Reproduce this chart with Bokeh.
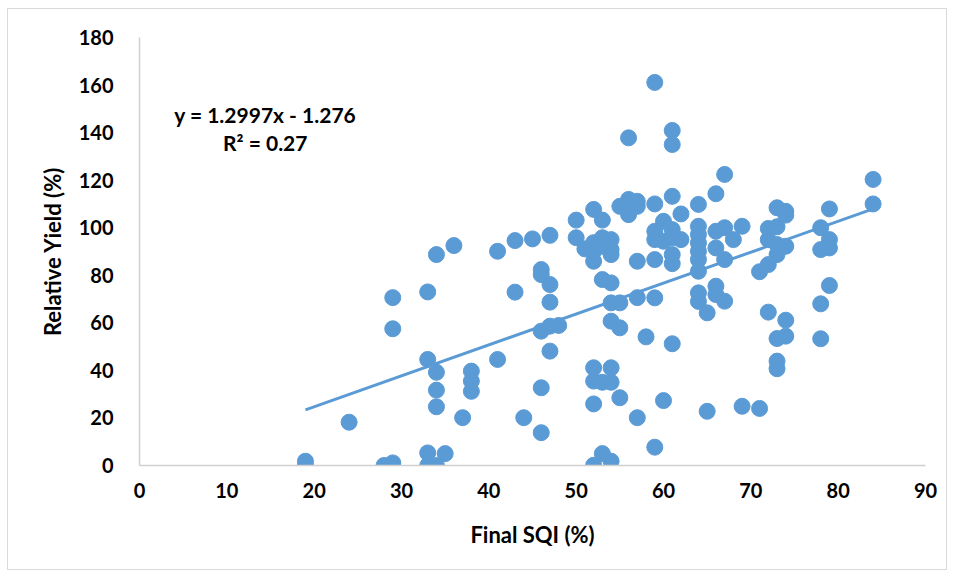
from bokeh.embed import file_html
from bokeh.models import ColumnDataSource, Label, Range1d
from bokeh.plotting import figure
from bokeh.resources import INLINE

# Final SQI (%) and relative yield (%)
sqi = [19, 19, 24, 28, 29, 29, 29, 29, 33, 33, 33, 33, 34, 34, 34, 34, 34, 35, 36,
       37, 38, 38, 38, 41, 41, 43, 43, 44, 45, 46, 46, 46, 46, 46, 47, 47, 47, 47, 47, 48,
       50, 50,
       51, 52, 53, 52, 53, 54, 52, 53, 54, 52, 54, 53, 54, 52, 54, 52, 53, 54, 55, 52,
       53, 54, 52, 54, 55, 54, 55,
       55, 56, 57, 56, 57, 57, 57, 57, 56, 58,
       59, 59, 59, 59, 59, 60, 59, 61, 59, 60, 61, 62, 61, 61, 62, 61, 61, 61, 60, 61,
       64, 64, 64, 64, 64, 64, 64, 64, 64, 65, 65,
       66, 66, 67, 69, 68, 66, 67, 66, 66, 67, 67, 69, 71,
       73, 74, 74, 72, 73, 72, 73, 74, 73, 72, 71, 72, 74, 73, 74, 73, 73,
       79, 78, 79, 78, 79, 79, 78, 78,
       84, 84]
rel_yield = [1.8, 0, 18.2, 0, 1.1, 0, 70.6, 57.5, 73.0, 44.6, 5.3, 0, 0, 39.2, 31.7, 24.7, 88.7, 5.0, 92.5,
             20.1, 39.7, 35.5, 31.2, 44.6, 90.1, 94.6, 72.9, 20.1, 95.3, 82.4, 80.3, 32.7, 13.8, 56.5,
             96.8, 76.1, 68.7, 58.6, 48.1, 58.9,
             103.2, 95.8,
             91.1, 107.7, 103.2, 93.7, 95.8, 95.0, 90.1, 92.2, 90.8, 85.9, 88.7, 78.2, 76.8, 41.1, 41.1,
             35.5, 35.0, 35.0, 28.5, 25.9, 5.0, 1.8, 0.1, 60.7, 57.9, 68.4, 68.4,
             109.0, 111.9, 111.1, 105.5, 109.0, 85.9, 70.6, 20.1, 137.8, 54.1,
             110.0, 86.6, 70.5, 7.7, 161.1, 102.7, 98.5, 99.2, 95.0, 94.3, 95.8, 95.0, 88.7, 84.9,
             105.8, 113.2, 140.9, 135.0, 27.3, 51.2,
             109.8, 100.6, 97.1, 93.6, 90.1, 86.6, 81.7, 72.6, 69.0, 64.2, 22.8,
             114.3, 98.5, 100.0, 100.6, 95.0, 91.5, 86.6, 75.4, 71.9, 69.1, 122.4, 24.9, 24.0,
             108.4, 106.9, 105.3, 99.7, 100.4, 95.0, 92.9, 92.2, 88.7, 84.5, 81.5, 64.5, 61.1,
             53.4, 54.4, 43.9, 40.7,
             107.9, 100.0, 95.0, 90.8, 91.5, 75.7, 68.0, 53.3,
             120.3, 110.0]

# linear trendline reported on the chart
slope = 1.2997
intercept = -1.276
r_squared = 0.27

x_ticks = list(range(0, 91, 10))
y_ticks = list(range(0, 181, 20))

BLUE = "#5B9BD5"
FONT = "Lato"

p = figure(width=940, height=562, x_range=Range1d(0, 90), y_range=Range1d(0, 180),
           output_backend="svg", toolbar_location=None,
           min_border_left=131, min_border_right=23, min_border_top=28, min_border_bottom=106)
p.styles = {"border": "1px solid #d9d9d9", "margin": "8px 0 0 7px"}
p.outline_line_color = None
p.grid.visible = False

source = ColumnDataSource(data=dict(x=sqi, y=rel_yield))
p.scatter("x", "y", source=source, size=16, fill_color=BLUE, line_color=BLUE)

x0, x1 = min(sqi), max(sqi)
p.line([x0, x1], [slope * x0 + intercept, slope * x1 + intercept],
       line_color=BLUE, line_width=3)

for ax in (p.xaxis[0], p.yaxis[0]):
    ax.axis_line_color = "#d0d0d0"
    ax.axis_line_width = 1.5
    ax.major_tick_line_color = None
    ax.minor_tick_line_color = None
    ax.major_tick_out = 0
    ax.major_tick_in = 0
    ax.major_label_text_font = FONT
    ax.major_label_text_font_style = "bold"
    ax.major_label_text_font_size = "20px"
    ax.major_label_text_color = "black"
    ax.axis_label_text_font = FONT
    ax.axis_label_text_font_style = "bold"
    ax.axis_label_text_font_size = "22px"
    ax.axis_label_text_color = "black"

p.xaxis.ticker = x_ticks
p.yaxis.ticker = y_ticks
p.xaxis.major_label_standoff = 17
p.yaxis.major_label_standoff = 26
p.xaxis.axis_label = "Final SQI (%)"
p.yaxis.axis_label = "Relative Yield (%)"
p.xaxis.axis_label_standoff = 20
p.yaxis.axis_label_standoff = 10

eq_text = "y = %.4fx - %.3f" % (slope, -intercept)
r2_text = "R² = %.2f" % r_squared
for txt, yy in ((eq_text, 147.6), (r2_text, 135.8)):
    p.add_layout(Label(x=14.4, y=yy, text=txt, text_align="center", text_baseline="middle",
                       text_font=FONT, text_font_style="bold", text_font_size="21px",
                       text_color="black"))

open("out.html", "w").write(file_html(p, INLINE))
